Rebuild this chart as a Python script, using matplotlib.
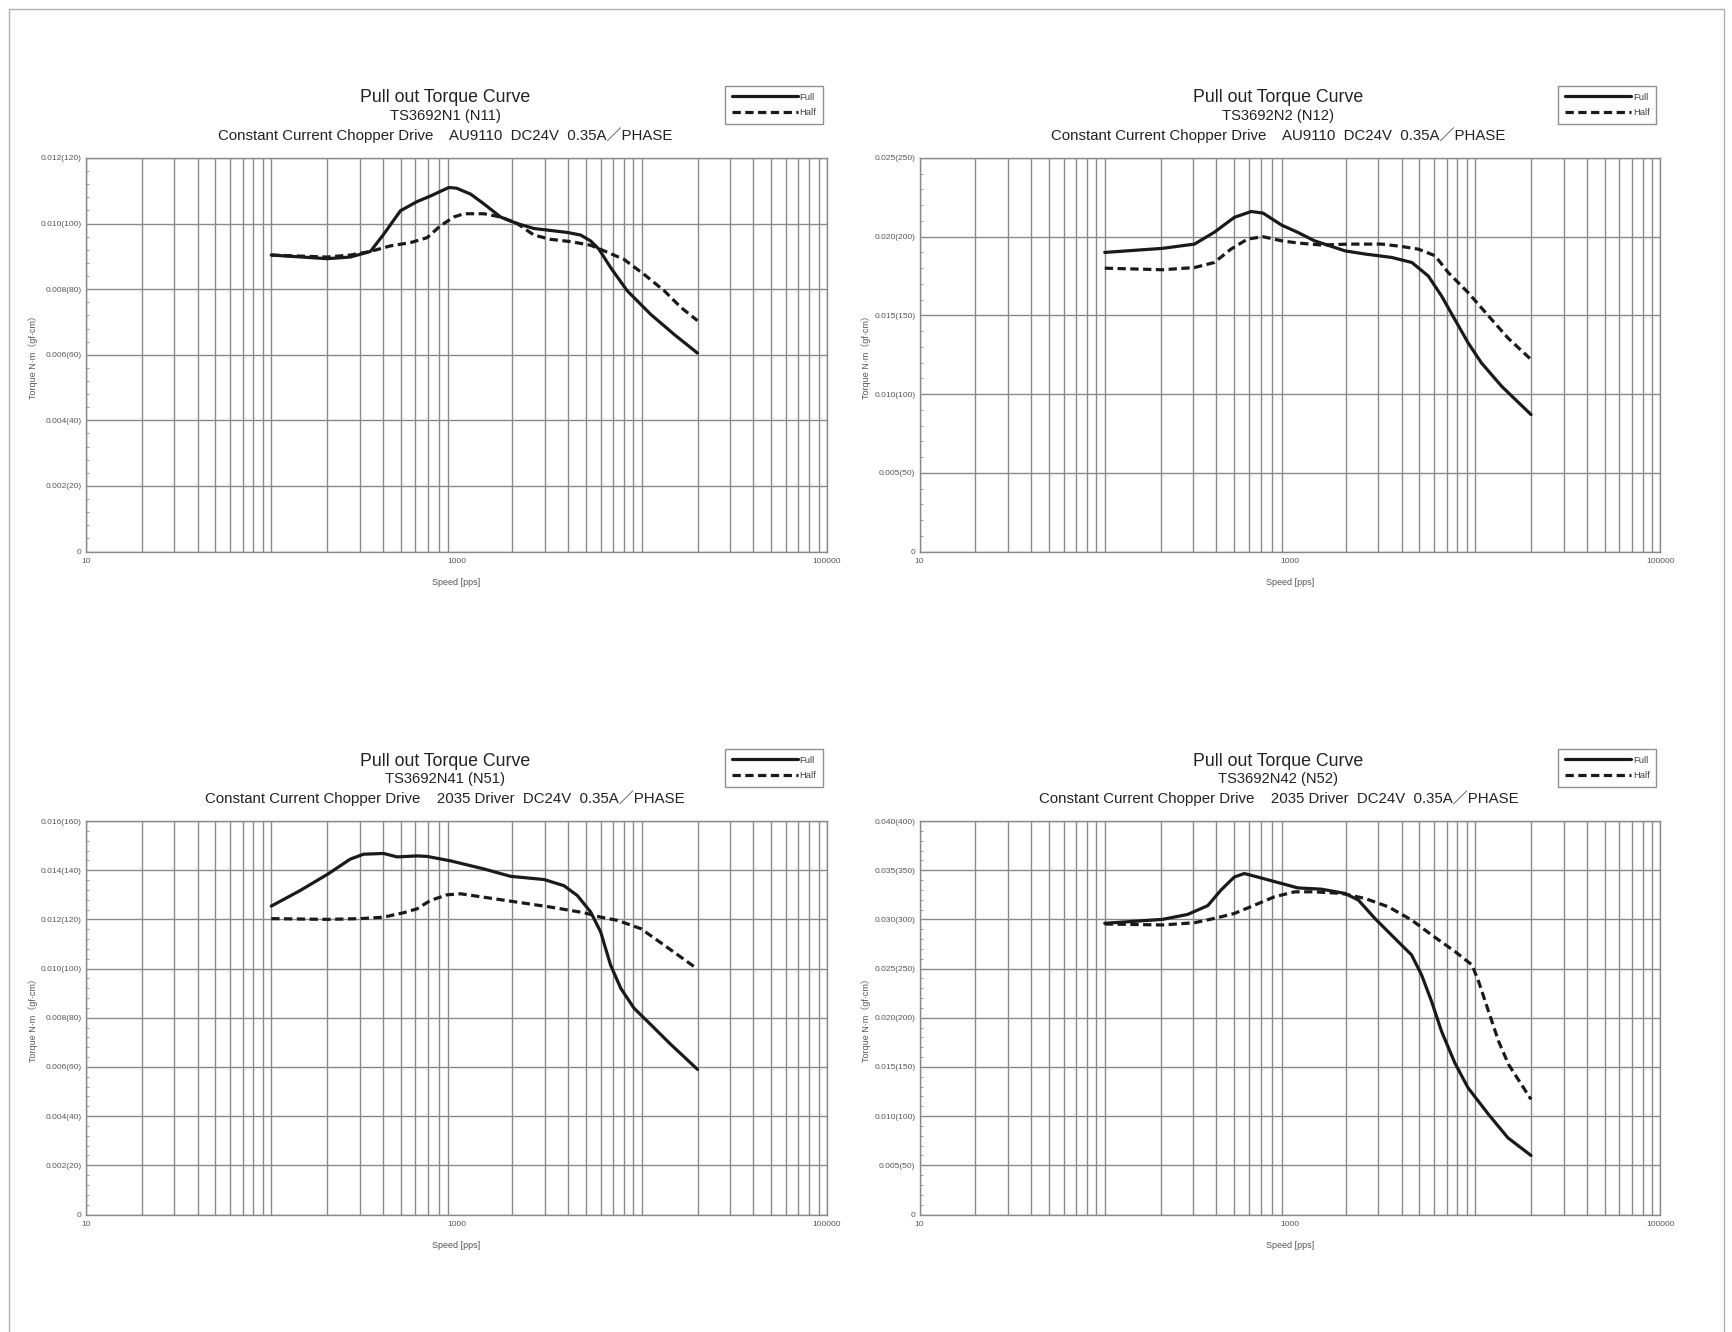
import numpy as np
import matplotlib
matplotlib.use('Agg')
from matplotlib import pyplot as plt
from matplotlib.ticker import FixedLocator, NullFormatter, FixedFormatter

plt.rcParams['font.family'] = ['Liberation Sans', 'Noto Sans CJK JP', 'DejaVu Sans']

# ---- data (speed in pps, torque in N*m) ----
n11_full_pps = [100, 200, 267, 343, 404, 498, 612, 723, 908, 1000, 1191, 1406, 1730, 2128, 2618,
                3963, 4680, 5300, 5875, 6790, 8350, 11190, 14960, 20000]
n11_full_torque = [0.00904, 0.00893, 0.00898, 0.00915, 0.00967, 0.01039, 0.01067, 0.01084, 0.0111,
                   0.01108, 0.0109, 0.0106, 0.0102, 0.0100, 0.00985, 0.00973, 0.00965, 0.00947,
                   0.00922, 0.00866, 0.00795, 0.00723, 0.00662, 0.00605]
n11_half_pps = [100, 200, 267, 343, 440, 565, 694, 818, 967, 1097, 1406, 1730, 2128, 2618, 3222,
                4130, 5300, 6250, 8010, 10300, 13230, 16300, 20000]
n11_half_torque = [0.00904, 0.00898, 0.00904, 0.00915, 0.00932, 0.00942, 0.00957, 0.00993, 0.0102,
                   0.0103, 0.0103, 0.0102, 0.0100, 0.00965, 0.00952, 0.00945, 0.00934, 0.00917,
                   0.00891, 0.00845, 0.00795, 0.00744, 0.00704]

n12_full_pps = [100, 205, 305, 390, 501, 617, 715, 900, 1100, 1355, 1980, 2540, 3550, 4550, 5580,
                6580, 7760, 9150, 10800, 13900, 20000]
n12_full_torque = [0.0190, 0.01926, 0.01953, 0.02028, 0.02123, 0.0216, 0.0215, 0.02074, 0.02028,
                   0.01974, 0.0191, 0.0189, 0.01868, 0.01836, 0.0175, 0.01623, 0.01474, 0.01326,
                   0.01198, 0.01049, 0.0087]
n12_half_pps = [100, 205, 305, 390, 480, 590, 715, 900, 1100, 1480, 2060, 3130, 4000, 4930, 6070,
                7150, 9150, 11800, 15000, 20000]
n12_half_torque = [0.0180, 0.0179, 0.01804, 0.01836, 0.01921, 0.01985, 0.0200, 0.01974, 0.0196,
                   0.01947, 0.01953, 0.01953, 0.01938, 0.01921, 0.01879, 0.01772, 0.01645, 0.01496,
                   0.01357, 0.0122]

n51_full_pps = [100, 143, 202, 267, 315, 404, 478, 612, 694, 928, 1406, 1960, 2970, 3800, 4490,
                5300, 6000, 6790, 7700, 9080, 11190, 14370, 20000]
n51_full_torque = [0.01254, 0.01317, 0.01384, 0.01445, 0.01465, 0.01468, 0.01454, 0.01458, 0.01456,
                   0.01438, 0.01405, 0.01375, 0.01362, 0.01337, 0.01297, 0.0123, 0.01149, 0.01014,
                   0.0092, 0.00839, 0.00772, 0.00691, 0.0059]
n51_half_pps = [100, 202, 302, 404, 518, 612, 723, 890, 1055, 1406, 2128, 3222, 4880, 6000, 7400,
                9900, 13230, 20000]
n51_half_torque = [0.01203, 0.0120, 0.01203, 0.01209, 0.01227, 0.01243, 0.01277, 0.0130, 0.01304,
                   0.0129, 0.0127, 0.0125, 0.01227, 0.01209, 0.01196, 0.01162, 0.01095, 0.00998]

n52_full_pps = [100, 205, 280, 360, 425, 500, 567, 670, 900, 1100, 1480, 1980, 2340, 2870, 3680,
                4530, 5130, 5810, 6580, 7760, 9150, 11800, 15000, 20000]
n52_full_torque = [0.0296, 0.0300, 0.0305, 0.0314, 0.0330, 0.0343, 0.03466, 0.0343, 0.03365, 0.0332,
                   0.03307, 0.03264, 0.03196, 0.0301, 0.02807, 0.02639, 0.02436, 0.02166, 0.01861,
                   0.0154, 0.01287, 0.01017, 0.0078, 0.0060]
n52_half_pps = [100, 205, 305, 391, 501, 644, 826, 1060, 1360, 1897, 2537, 3395, 4540, 5820, 7790,
                9600, 10430, 11800, 13370, 15140, 20000]
n52_half_torque = [0.02953, 0.02943, 0.02966, 0.0301, 0.0306, 0.03145, 0.0323, 0.0328, 0.0328,
                   0.03264, 0.03213, 0.03128, 0.02993, 0.02841, 0.02672, 0.02537, 0.02368, 0.02064,
                   0.0176, 0.01524, 0.0117]

models = ['TS3692N1 (N11)', 'TS3692N2 (N12)', 'TS3692N41 (N51)', 'TS3692N42 (N52)']
drives = ['Constant Current Chopper Drive    AU9110  DC24V  0.35A／PHASE',
          'Constant Current Chopper Drive    AU9110  DC24V  0.35A／PHASE',
          'Constant Current Chopper Drive    2035 Driver  DC24V  0.35A／PHASE',
          'Constant Current Chopper Drive    2035 Driver  DC24V  0.35A／PHASE']

ytick_vals = [[0, 0.002, 0.004, 0.006, 0.008, 0.010, 0.012],
              [0, 0.005, 0.010, 0.015, 0.020, 0.025],
              [0, 0.002, 0.004, 0.006, 0.008, 0.010, 0.012, 0.014, 0.016],
              [0, 0.005, 0.010, 0.015, 0.020, 0.025, 0.030, 0.035, 0.040]]
ytick_labels = [['0', '0.002(20)', '0.004(40)', '0.006(60)', '0.008(80)', '0.010(100)', '0.012(120)'],
                ['0', '0.005(50)', '0.010(100)', '0.015(150)', '0.020(200)', '0.025(250)'],
                ['0', '0.002(20)', '0.004(40)', '0.006(60)', '0.008(80)', '0.010(100)', '0.012(120)',
                 '0.014(140)', '0.016(160)'],
                ['0', '0.005(50)', '0.010(100)', '0.015(150)', '0.020(200)', '0.025(250)',
                 '0.030(300)', '0.035(350)', '0.040(400)']]

full_series = [(n11_full_pps, n11_full_torque), (n12_full_pps, n12_full_torque),
               (n51_full_pps, n51_full_torque), (n52_full_pps, n52_full_torque)]
half_series = [(n11_half_pps, n11_half_torque), (n12_half_pps, n12_half_torque),
               (n51_half_pps, n51_half_torque), (n52_half_pps, n52_half_torque)]

W, H = 1733, 1332
fig = plt.figure(figsize=(W / 100, H / 100), dpi=100)

# page frame
fig.add_artist(plt.Rectangle((9 / W, -0.01), (1724 - 9) / W, 1.01 - 9 / H, transform=fig.transFigure,
                             fill=False, edgecolor='#b0b0b0', linewidth=1.0))

# axes boxes in pixels: left, top
boxes = [(86, 158), (919.5, 158), (86, 821), (919.5, 821)]
ax_w, ax_h = 741, 393.5

# vertical grid: every 1..9 x decade (the chart leaves out the 1000 line)
xgrid = [m * 10 ** e for e in range(1, 5) for m in range(1, 10)] + [100000]
xgrid = [v for v in xgrid if v != 1000]
xlabel_vals = [10, 1000, 100000]

grid_col = '#8a8a8a'
text_col = '#222222'
tick_col = '#555555'

for i in range(4):
    left, top = boxes[i]
    ax = fig.add_axes([left / W, 1 - (top + ax_h) / H, ax_w / W, ax_h / H])
    ax.set_xscale('log')
    ax.set_xlim(10, 100000)
    ax.set_ylim(0, ytick_vals[i][-1])

    ax.xaxis.set_major_locator(FixedLocator(xlabel_vals))
    ax.xaxis.set_major_formatter(FixedFormatter([str(v) for v in xlabel_vals]))
    ax.xaxis.set_minor_locator(FixedLocator([]))
    ax.xaxis.set_minor_formatter(NullFormatter())
    for v in xgrid:
        ax.axvline(v, color=grid_col, linewidth=1.0, zorder=1)
    ax.set_yticks(ytick_vals[i])
    ax.set_yticklabels(ytick_labels[i])
    step = ytick_vals[i][1]
    ax.set_yticks(np.arange(0, ytick_vals[i][-1] + 1e-9, step / 5), minor=True)

    ax.tick_params(axis='both', which='major', length=0, labelsize=6, labelcolor=tick_col, pad=3)
    ax.tick_params(axis='y', which='minor', length=2.5, width=0.6, direction='in', color='#888888')
    ax.tick_params(axis='x', which='major', pad=5)
    ax.grid(True, which='major', axis='y', color=grid_col, linewidth=1.0)
    for s in ax.spines.values():
        s.set_color(grid_col)
        s.set_linewidth(1.0)

    fx, fy = full_series[i]
    hx, hy = half_series[i]
    ax.plot(fx, fy, color='#1a1a1a', linewidth=2.3, solid_joinstyle='round', solid_capstyle='round',
            label='Full', zorder=3)
    ax.plot(hx, hy, color='#1a1a1a', linewidth=2.3, linestyle=(0, (2.6, 1.4)), label='Half', zorder=3)

    ax.set_xlabel('Speed [pps]', fontsize=6.5, color=tick_col, labelpad=9)
    ax.set_ylabel('Torque N·m（gf·cm）', fontsize=6.5, color=tick_col, labelpad=2)

    cx = (445 - 86) / ax_w
    ax.text(cx, 1 + 60 / ax_h, 'Pull out Torque Curve', transform=ax.transAxes, ha='center',
            va='center', fontsize=12.8, color=text_col)
    ax.text(cx, 1 + 42 / ax_h, models[i], transform=ax.transAxes, ha='center', va='center',
            fontsize=10.6, color=text_col)
    ax.text(cx, 1 + 23 / ax_h, drives[i], transform=ax.transAxes, ha='center', va='center',
            fontsize=10.8, color=text_col)

    leg = ax.legend(loc='upper right', bbox_to_anchor=(1 - 4 / ax_w, 1 + 72 / ax_h), fontsize=6.8,
                    handlelength=7, handletextpad=0.2, borderpad=0.7, labelspacing=0.7,
                    fancybox=False, framealpha=1, edgecolor='#909090', borderaxespad=0)
    leg.get_frame().set_linewidth(1.0)
    for t in leg.get_texts():
        t.set_color('#444444')

fig.savefig('out.png', dpi=100, facecolor='white')
